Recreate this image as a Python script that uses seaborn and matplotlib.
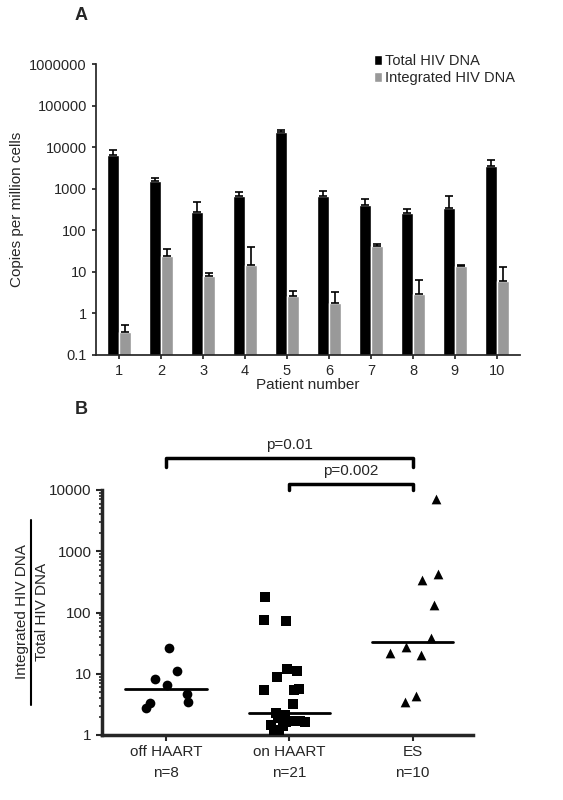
import numpy as np
import pandas as pd
import matplotlib
matplotlib.use("Agg")
import matplotlib.pyplot as plt
import seaborn as sns

patients = ["1","2","3","4","5","6","7","8","9","10"]
total = [6500,1500,270,680,23000,680,400,260,350,3600]
total_err_top = [8500,1800,480,850,26500,900,570,330,680,4800]
integ = [0.35,24,8,15,2.6,1.8,42,3,14,6]
integ_err_top = [0.53,35,9.3,40,3.4,3.3,48,6.5,14.5,13]

groups = ["off HAART","on HAART","ES"]
counts = ["n=8","n=21","n=10"]
off_haart = [26,11.1,8.3,6.5,4.7,3.5,2.8,3.3]
on_haart = [180,72,75,12,11,9,5.6,5.4,5.5,3.2,2.3,2.1,1.9,1.7,1.6,1.45,1.7,1.6,1.2,1.2,1.4]
es = [7000,430,335,135,39,27,22,20,4.4,3.5]
pvals = ["p=0.01","p=0.002"]

sns.set_theme(style="ticks")
plt.rcParams['font.family'] = ['Liberation Sans','DejaVu Sans']
fig = plt.figure(figsize=(5.63,8), dpi=100)

# Panel A
axA = fig.add_axes([96/563, 1-355/800, (520-96)/563, 291/800])
dfA = pd.DataFrame({"Patient": patients*2,
                    "val": total+integ,
                    "kind": ["Total HIV DNA"]*10+["Integrated HIV DNA"]*10})
sns.barplot(data=dfA, x="Patient", y="val", hue="kind", palette=["black","#999999"],
            ax=axA, width=0.58, saturation=1, errorbar=None)
axA.set_yscale("log")
bars = [p for p in axA.patches if p.get_height() > 0][:20]
tops = total_err_top + integ_err_top
vals = total + integ
for p, v, t in zip(bars, vals, tops):
    xc = p.get_x() + p.get_width()/2
    axA.errorbar([xc], [v], yerr=[[0],[t-v]], fmt='none', ecolor='black', capsize=3, lw=1.2, capthick=1.2)
axA.set_ylim(0.1, 1e6)
axA.set_xlim(-0.55, 9.55)
axA.set_yticks([0.1,1,10,100,1000,10000,100000,1000000])
axA.set_yticklabels(["0.1","1","10","100","1000","10000","100000","1000000"])
axA.minorticks_off()
axA.set_xlabel("Patient number", fontsize=11, labelpad=0)
axA.set_ylabel("Copies per million cells", fontsize=11)
axA.tick_params(labelsize=10.5, length=3)
sns.despine(ax=axA)
axA.legend(loc="upper right", bbox_to_anchor=(1.02, 1.08), frameon=False, fontsize=10.5,
           handlelength=0.6, handletextpad=0.2, labelspacing=0.2)
fig.text(75/563, 1-15/800, "A", fontsize=13, fontweight="bold", va="center")

# Panel B
axB = fig.add_axes([102/563, 1-735/800, (473-102)/563, 245/800])
np.random.seed(3)
for i, (d, m) in enumerate(zip([off_haart,on_haart,es], ["o","s","^"])):
    df = pd.DataFrame({"g": [groups[i]]*len(d), "v": d})
    sns.stripplot(data=df, x="g", y="v", order=groups, marker=m, color="black", size=7,
                  jitter=0.22, ax=axB, log_scale=True)
    med = np.median(d)
    axB.plot([i-0.33, i+0.33], [med, med], color="black", lw=2)
axB.set_ylim(1, 10000)
axB.set_xlim(-0.52, 2.49)
axB.set_yticks([1,10,100,1000,10000])
axB.set_yticklabels(["1","10","100","1000","10000"])
axB.set_xlabel(""); axB.set_ylabel("")
axB.tick_params(labelsize=11, length=4, width=1.5)
axB.tick_params(axis='y', which='minor', length=2.5, width=1.2)
for s in ["left","bottom"]:
    axB.spines[s].set_linewidth(2.5)
sns.despine(ax=axB)
for i, c in enumerate(counts):
    axB.text(i, -0.17, c, transform=axB.get_xaxis_transform(), ha="center", fontsize=11)
for (x0, x1, yb, ye), lab in zip([(0, 2, 10**4.52, 10**4.375), (1, 2, 10**4.1, 10**4.0)], pvals):
    axB.plot([x0, x0, x1, x1], [ye, yb, yb, ye], color="black", lw=2.5, clip_on=False)
    axB.text((x0+x1)/2, yb*1.25, lab, ha="center", va="bottom", fontsize=11)
fig.text(75/563, 1-410/800, "B", fontsize=13, fontweight="bold", va="center")
fig.text(22/563, 1-612/800, "Integrated HIV DNA", rotation=90, ha="center", va="center", fontsize=11)
fig.text(42/563, 1-612/800, "Total HIV DNA", rotation=90, ha="center", va="center", fontsize=11)
fig.add_artist(plt.Line2D([31/563, 31/563], [1-705/800, 1-520/800], color="black", lw=1.5))

fig.savefig("out.png", dpi=100)
